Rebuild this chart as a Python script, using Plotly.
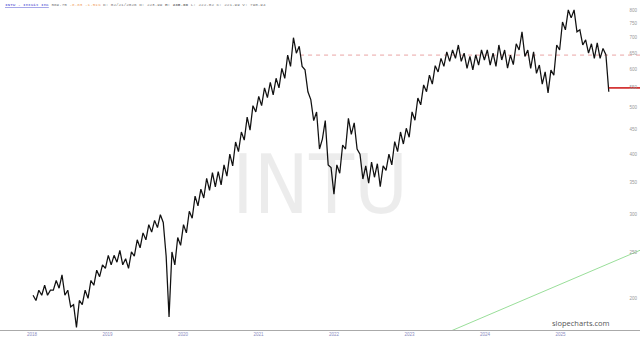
import math
import pandas as pd
import plotly.graph_objects as go

# ---------------- data ----------------
start_date = "2018-07-06"
sample_freq = "14D"
prices = [
    203, 198, 208, 203, 213, 203, 208, 208, 218, 210,
    224, 203, 208, 192, 194, 174, 198, 194, 208, 200,
    218, 213, 229, 222, 235, 231, 246, 235, 246, 238,
    252, 235, 242, 231, 250, 245, 265, 255, 274, 265,
    285, 275, 291, 281, 299, 288, 245, 183, 250, 235,
    268, 258, 285, 274, 304, 294, 327, 312, 338, 324,
    356, 336, 366, 342, 368, 345, 380, 360, 400, 378,
    424, 405, 445, 428, 478, 449, 505, 490, 528, 505,
    550, 525, 565, 532, 576, 550, 604, 576, 644, 610,
    700, 650, 672, 610, 600, 540, 520, 470, 490, 410,
    430, 470, 380, 375, 330, 380, 365, 418, 410, 475,
    440, 465, 410, 400, 355, 378, 348, 385, 358, 382,
    342, 378, 370, 400, 380, 425, 405, 445, 420, 453,
    434, 490, 471, 524, 507, 558, 540, 585, 560, 612,
    594, 634, 610, 654, 625, 660, 634, 676, 625, 650,
    604, 640, 600, 645, 614, 660, 629, 660, 614, 650,
    610, 676, 629, 660, 605, 644, 615, 680, 660, 720,
    640, 660, 604, 654, 590, 614, 560, 594, 537, 599,
    585, 676, 660, 755, 727, 800, 770, 800, 720, 727,
    676, 693, 650, 680, 634, 683, 634, 665, 645, 540,
]
last_price = 550

resistance_level = 644
resistance_start = "2022-01-18"

trend_dates = ["2024-01-18", "2026-07-21"]
trend_values = [171, 252]

year_labels = ["2018", "2019", "2020", "2021", "2022", "2023", "2024", "2025"]
year_tick_dates = [y + "-07-01" for y in year_labels]

price_ticks = [800, 750, 700, 650, 600, 550, 500, 450, 400, 350, 300, 250, 200]

x_range = ["2018-01-27", "2026-07-21"]
y_range_vals = [171.8, 839.2]

header_ticker = "INTU - Intuit Inc"
header_last = "569.75"
header_change = "-8.83 -1.51%"
header_rest = "D: 02/21/2026 O: 223.99 <b>H: 235.66</b> L: 222.02 C: 221.99 V: 790.94"

# ---------------- figure ----------------
dates = pd.date_range(start_date, periods=len(prices), freq=sample_freq)

fig = go.Figure()

fig.add_trace(go.Scatter(
    x=trend_dates, y=trend_values, mode="lines",
    line=dict(color="#7fd67f", width=0.8), hoverinfo="skip", showlegend=False))

fig.add_trace(go.Scatter(
    x=[resistance_start, x_range[1]], y=[resistance_level, resistance_level], mode="lines",
    line=dict(color="#e89a9a", width=0.9, dash="4px,4px"), hoverinfo="skip", showlegend=False))

fig.add_trace(go.Scatter(
    x=dates, y=prices, mode="lines",
    line=dict(color="#111111", width=1.25), hoverinfo="skip", showlegend=False))

fig.add_trace(go.Scatter(
    x=[dates[-1], x_range[1]], y=[last_price, last_price], mode="lines",
    line=dict(color="#cc1111", width=1.5), hoverinfo="skip", showlegend=False))

fig.update_layout(
    width=640, height=340,
    margin=dict(l=0, r=0, t=0, b=10),
    paper_bgcolor="white", plot_bgcolor="white",
    showlegend=False,
    xaxis=dict(
        type="date", range=x_range,
        showgrid=False, zeroline=False,
        showline=True, linecolor="#aaaaaa", linewidth=1,
        tickmode="array", tickvals=year_tick_dates, ticktext=year_labels,
        ticks="", tickfont=dict(size=4.5, color="#8c8cc0", family="Liberation Sans"),
    ),
    yaxis=dict(
        type="log", range=[math.log10(y_range_vals[0]), math.log10(y_range_vals[1])],
        side="right", ticklabelposition="inside",
        showgrid=False, zeroline=False, showline=False,
        tickmode="array", tickvals=price_ticks, ticktext=[str(v) for v in price_ticks],
        ticks="", tickfont=dict(size=4.5, color="#999999", family="Liberation Sans"),
    ),
    annotations=[
        dict(text="INTU", xref="paper", yref="paper", x=0.5, y=0.44,
             xanchor="center", yanchor="middle", showarrow=False,
             font=dict(size=82, color="rgba(0,0,0,0.075)",
                       family="DejaVu Sans Condensed, Liberation Sans Narrow, Liberation Sans")),
        dict(text=(f"<span style='color:#3333cc'><u>{header_ticker}</u></span> "
                   f"<span style='color:#777777'>{header_last}</span> "
                   f"<span style='color:#f0a060'>{header_change}</span> "
                   f"<span style='color:#777777'>{header_rest}</span>"),
             xref="paper", yref="paper", x=3 / 640, y=(330 - 5) / 330,
             xanchor="left", yanchor="middle", showarrow=False,
             font=dict(size=4.3, family="Liberation Mono")),
        dict(text="slopecharts.com", xref="paper", yref="paper", x=581 / 640, y=(330 - 323) / 330,
             xanchor="center", yanchor="middle", showarrow=False,
             font=dict(size=7.5, color="#555555", family="Open Sans")),
    ],
)

fig.write_html("out.html")
